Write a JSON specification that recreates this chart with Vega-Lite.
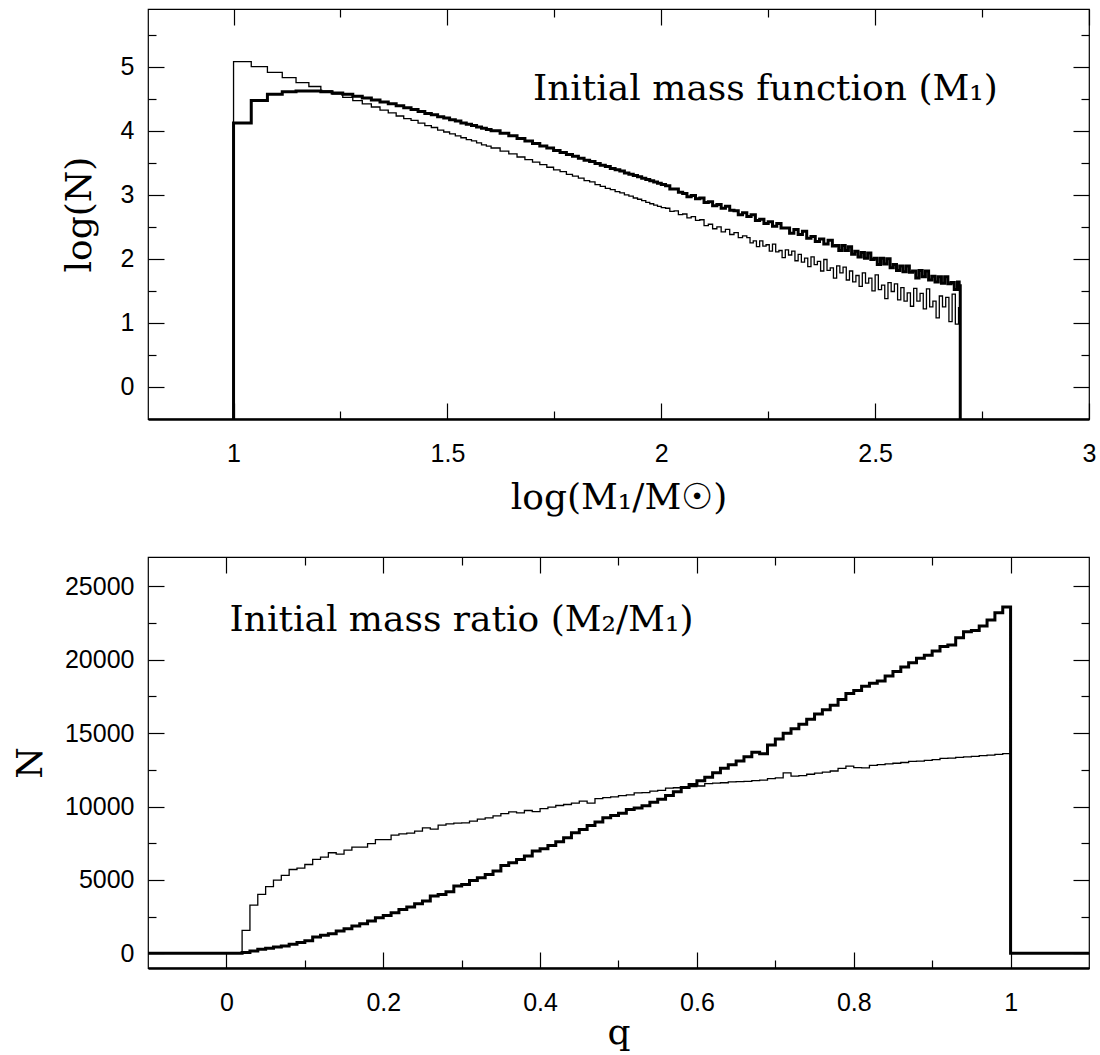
{
  "$schema": "https://vega.github.io/schema/vega-lite/v6.json",
  "background": "white",
  "padding": {"left": 11, "top": 7, "right": 5, "bottom": 0},
  "bounds": "flush",
  "spacing": 138,
  "datasets": {
    "imf": [
      {"s":"thin","x":0.9995,"y":-1},{"s":"thin","x":1.0,"y":5.08},{"s":"thin","x":1.0414,"y":5.0},{"s":"thin","x":1.0792,"y":4.91},{"s":"thin","x":1.1139,"y":4.83},{"s":"thin","x":1.1461,"y":4.75},{"s":"thin","x":1.1761,"y":4.69},{"s":"thin","x":1.2041,"y":4.62},{"s":"thin","x":1.2304,"y":4.57},{"s":"thin","x":1.2553,"y":4.52},{"s":"thin","x":1.2788,"y":4.47},{"s":"thin","x":1.301,"y":4.42},{"s":"thin","x":1.3222,"y":4.37},{"s":"thin","x":1.3424,"y":4.32},{"s":"thin","x":1.3617,"y":4.28},{"s":"thin","x":1.3802,"y":4.23},{"s":"thin","x":1.3979,"y":4.19},{"s":"thin","x":1.415,"y":4.16},{"s":"thin","x":1.4314,"y":4.12},{"s":"thin","x":1.4472,"y":4.08},{"s":"thin","x":1.4624,"y":4.05},{"s":"thin","x":1.4771,"y":4.01},{"s":"thin","x":1.4914,"y":3.98},{"s":"thin","x":1.5051,"y":3.95},{"s":"thin","x":1.5185,"y":3.92},{"s":"thin","x":1.5315,"y":3.89},{"s":"thin","x":1.5441,"y":3.86},{"s":"thin","x":1.5563,"y":3.84},{"s":"thin","x":1.5682,"y":3.81},{"s":"thin","x":1.5798,"y":3.78},{"s":"thin","x":1.5911,"y":3.76},{"s":"thin","x":1.6021,"y":3.73},{"s":"thin","x":1.6232,"y":3.68},{"s":"thin","x":1.6435,"y":3.64},{"s":"thin","x":1.6628,"y":3.59},{"s":"thin","x":1.6812,"y":3.55},{"s":"thin","x":1.699,"y":3.51},{"s":"thin","x":1.716,"y":3.47},{"s":"thin","x":1.7324,"y":3.43},{"s":"thin","x":1.7482,"y":3.39},{"s":"thin","x":1.7634,"y":3.36},{"s":"thin","x":1.7782,"y":3.32},{"s":"thin","x":1.7924,"y":3.29},{"s":"thin","x":1.8062,"y":3.26},{"s":"thin","x":1.8195,"y":3.22},{"s":"thin","x":1.8325,"y":3.2},{"s":"thin","x":1.8451,"y":3.16},{"s":"thin","x":1.8573,"y":3.13},{"s":"thin","x":1.8692,"y":3.1},{"s":"thin","x":1.8808,"y":3.08},{"s":"thin","x":1.8921,"y":3.05},{"s":"thin","x":1.9031,"y":3.03},{"s":"thin","x":1.9138,"y":3.0},{"s":"thin","x":1.9243,"y":2.98},{"s":"thin","x":1.9345,"y":2.95},{"s":"thin","x":1.9445,"y":2.93},{"s":"thin","x":1.9542,"y":2.91},{"s":"thin","x":1.9638,"y":2.88},{"s":"thin","x":1.9731,"y":2.86},{"s":"thin","x":1.9823,"y":2.84},{"s":"thin","x":1.9912,"y":2.82},{"s":"thin","x":2.0,"y":2.8},
      {"s":"thin","x":2.01,"y":2.79},{"s":"thin","x":2.02,"y":2.74},{"s":"thin","x":2.03,"y":2.75},{"s":"thin","x":2.04,"y":2.69},{"s":"thin","x":2.05,"y":2.7},{"s":"thin","x":2.06,"y":2.64},{"s":"thin","x":2.07,"y":2.66},{"s":"thin","x":2.08,"y":2.6},{"s":"thin","x":2.09,"y":2.61},{"s":"thin","x":2.1,"y":2.52},{"s":"thin","x":2.11,"y":2.54},{"s":"thin","x":2.12,"y":2.47},{"s":"thin","x":2.13,"y":2.5},{"s":"thin","x":2.14,"y":2.42},{"s":"thin","x":2.15,"y":2.46},{"s":"thin","x":2.16,"y":2.38},{"s":"thin","x":2.17,"y":2.41},{"s":"thin","x":2.18,"y":2.33},{"s":"thin","x":2.19,"y":2.36},
      {"s":"thin","x":2.2,"y":2.33},{"s":"thin","x":2.2075,"y":2.25},{"s":"thin","x":2.215,"y":2.28},{"s":"thin","x":2.2225,"y":2.19},{"s":"thin","x":2.23,"y":2.28},{"s":"thin","x":2.2375,"y":2.2},{"s":"thin","x":2.245,"y":2.22},{"s":"thin","x":2.2525,"y":2.12},{"s":"thin","x":2.26,"y":2.23},{"s":"thin","x":2.2675,"y":2.11},{"s":"thin","x":2.275,"y":2.13},{"s":"thin","x":2.2825,"y":2.02},{"s":"thin","x":2.29,"y":2.14},{"s":"thin","x":2.2975,"y":2.06},{"s":"thin","x":2.305,"y":2.12},{"s":"thin","x":2.3125,"y":1.97},{"s":"thin","x":2.32,"y":2.07},{"s":"thin","x":2.3275,"y":1.95},{"s":"thin","x":2.335,"y":2.01},{"s":"thin","x":2.3425,"y":1.88},{"s":"thin","x":2.35,"y":2.03},{"s":"thin","x":2.3575,"y":1.91},{"s":"thin","x":2.365,"y":1.96},{"s":"thin","x":2.3725,"y":1.81},{"s":"thin","x":2.38,"y":1.99},{"s":"thin","x":2.3875,"y":1.82},{"s":"thin","x":2.395,"y":1.86},{"s":"thin","x":2.4025,"y":1.7},{"s":"thin","x":2.41,"y":1.89},{"s":"thin","x":2.4175,"y":1.78},{"s":"thin","x":2.425,"y":1.87},{"s":"thin","x":2.4325,"y":1.67},{"s":"thin","x":2.44,"y":1.81},{"s":"thin","x":2.4475,"y":1.64},{"s":"thin","x":2.455,"y":1.74},{"s":"thin","x":2.4625,"y":1.57},{"s":"thin","x":2.47,"y":1.78},{"s":"thin","x":2.4775,"y":1.62},{"s":"thin","x":2.485,"y":1.7},{"s":"thin","x":2.4925,"y":1.5},{"s":"thin","x":2.5,"y":1.75},{"s":"thin","x":2.5075,"y":1.52},{"s":"thin","x":2.515,"y":1.59},{"s":"thin","x":2.5225,"y":1.38},{"s":"thin","x":2.53,"y":1.63},{"s":"thin","x":2.5375,"y":1.49},{"s":"thin","x":2.545,"y":1.61},{"s":"thin","x":2.5525,"y":1.36},{"s":"thin","x":2.56,"y":1.55},{"s":"thin","x":2.5675,"y":1.34},{"s":"thin","x":2.575,"y":1.47},{"s":"thin","x":2.5825,"y":1.26},{"s":"thin","x":2.59,"y":1.54},{"s":"thin","x":2.5975,"y":1.34},{"s":"thin","x":2.605,"y":1.46},{"s":"thin","x":2.6125,"y":1.22},{"s":"thin","x":2.62,"y":1.53},{"s":"thin","x":2.6275,"y":1.25},{"s":"thin","x":2.635,"y":1.34},{"s":"thin","x":2.6425,"y":1.08},{"s":"thin","x":2.65,"y":1.42},{"s":"thin","x":2.6575,"y":1.25},{"s":"thin","x":2.665,"y":1.4},{"s":"thin","x":2.6725,"y":1.02},{"s":"thin","x":2.68,"y":1.45},{"s":"thin","x":2.6875,"y":0.98},{"s":"thin","x":2.695,"y":1.24},{"s":"thin","x":2.699,"y":-1},
      {"s":"thick","x":0.9995,"y":-1},{"s":"thick","x":1.0,"y":4.12},{"s":"thick","x":1.0414,"y":4.47},{"s":"thick","x":1.0792,"y":4.57},{"s":"thick","x":1.1139,"y":4.61},{"s":"thick","x":1.1461,"y":4.62},{"s":"thick","x":1.1761,"y":4.62},{"s":"thick","x":1.2041,"y":4.61},{"s":"thick","x":1.2304,"y":4.59},{"s":"thick","x":1.2553,"y":4.57},{"s":"thick","x":1.2788,"y":4.54},{"s":"thick","x":1.301,"y":4.51},{"s":"thick","x":1.3222,"y":4.48},{"s":"thick","x":1.3424,"y":4.45},{"s":"thick","x":1.3617,"y":4.42},{"s":"thick","x":1.3802,"y":4.39},{"s":"thick","x":1.3979,"y":4.36},{"s":"thick","x":1.415,"y":4.33},{"s":"thick","x":1.4314,"y":4.3},{"s":"thick","x":1.4472,"y":4.27},{"s":"thick","x":1.4624,"y":4.25},{"s":"thick","x":1.4771,"y":4.22},{"s":"thick","x":1.4914,"y":4.2},{"s":"thick","x":1.5051,"y":4.17},{"s":"thick","x":1.5185,"y":4.15},{"s":"thick","x":1.5315,"y":4.12},{"s":"thick","x":1.5441,"y":4.1},{"s":"thick","x":1.5563,"y":4.08},{"s":"thick","x":1.5682,"y":4.06},{"s":"thick","x":1.5798,"y":4.04},{"s":"thick","x":1.5911,"y":4.02},{"s":"thick","x":1.6021,"y":4.0},{"s":"thick","x":1.6232,"y":3.96},{"s":"thick","x":1.6435,"y":3.92},{"s":"thick","x":1.6628,"y":3.88},{"s":"thick","x":1.6812,"y":3.84},{"s":"thick","x":1.699,"y":3.8},{"s":"thick","x":1.716,"y":3.76},{"s":"thick","x":1.7324,"y":3.73},{"s":"thick","x":1.7482,"y":3.69},{"s":"thick","x":1.7634,"y":3.66},{"s":"thick","x":1.7782,"y":3.63},{"s":"thick","x":1.7924,"y":3.6},{"s":"thick","x":1.8062,"y":3.57},{"s":"thick","x":1.8195,"y":3.54},{"s":"thick","x":1.8325,"y":3.52},{"s":"thick","x":1.8451,"y":3.49},{"s":"thick","x":1.8573,"y":3.46},{"s":"thick","x":1.8692,"y":3.44},{"s":"thick","x":1.8808,"y":3.41},{"s":"thick","x":1.8921,"y":3.39},{"s":"thick","x":1.9031,"y":3.37},{"s":"thick","x":1.9138,"y":3.34},{"s":"thick","x":1.9243,"y":3.32},{"s":"thick","x":1.9345,"y":3.3},{"s":"thick","x":1.9445,"y":3.28},{"s":"thick","x":1.9542,"y":3.26},{"s":"thick","x":1.9638,"y":3.24},{"s":"thick","x":1.9731,"y":3.22},{"s":"thick","x":1.9823,"y":3.2},{"s":"thick","x":1.9912,"y":3.18},{"s":"thick","x":2.0,"y":3.16},
      {"s":"thick","x":2.01,"y":3.14},{"s":"thick","x":2.02,"y":3.09},{"s":"thick","x":2.03,"y":3.09},{"s":"thick","x":2.04,"y":3.04},{"s":"thick","x":2.05,"y":3.02},{"s":"thick","x":2.06,"y":2.97},{"s":"thick","x":2.07,"y":2.99},{"s":"thick","x":2.08,"y":2.94},{"s":"thick","x":2.09,"y":2.95},{"s":"thick","x":2.1,"y":2.88},{"s":"thick","x":2.11,"y":2.89},{"s":"thick","x":2.12,"y":2.83},{"s":"thick","x":2.13,"y":2.85},{"s":"thick","x":2.14,"y":2.79},{"s":"thick","x":2.15,"y":2.82},{"s":"thick","x":2.16,"y":2.76},{"s":"thick","x":2.17,"y":2.75},{"s":"thick","x":2.18,"y":2.69},{"s":"thick","x":2.19,"y":2.72},{"s":"thick","x":2.2,"y":2.66},{"s":"thick","x":2.21,"y":2.69},{"s":"thick","x":2.22,"y":2.6},{"s":"thick","x":2.23,"y":2.62},{"s":"thick","x":2.24,"y":2.55},{"s":"thick","x":2.25,"y":2.58},{"s":"thick","x":2.26,"y":2.51},{"s":"thick","x":2.27,"y":2.55},{"s":"thick","x":2.28,"y":2.48},{"s":"thick","x":2.29,"y":2.48},{"s":"thick","x":2.3,"y":2.4},{"s":"thick","x":2.31,"y":2.46},{"s":"thick","x":2.32,"y":2.38},{"s":"thick","x":2.33,"y":2.43},{"s":"thick","x":2.34,"y":2.32},{"s":"thick","x":2.35,"y":2.35},{"s":"thick","x":2.36,"y":2.27},{"s":"thick","x":2.37,"y":2.31},{"s":"thick","x":2.38,"y":2.23},{"s":"thick","x":2.39,"y":2.29},{"s":"thick","x":2.4,"y":2.2},
      {"s":"thick","x":2.4075,"y":2.21},{"s":"thick","x":2.415,"y":2.13},{"s":"thick","x":2.4225,"y":2.21},{"s":"thick","x":2.43,"y":2.13},{"s":"thick","x":2.4375,"y":2.19},{"s":"thick","x":2.445,"y":2.07},{"s":"thick","x":2.4525,"y":2.12},{"s":"thick","x":2.46,"y":2.03},{"s":"thick","x":2.4675,"y":2.1},{"s":"thick","x":2.475,"y":2.01},{"s":"thick","x":2.4825,"y":2.09},{"s":"thick","x":2.49,"y":1.99},{"s":"thick","x":2.4975,"y":2.01},{"s":"thick","x":2.505,"y":1.91},{"s":"thick","x":2.5125,"y":2.01},{"s":"thick","x":2.52,"y":1.92},{"s":"thick","x":2.5275,"y":2.0},{"s":"thick","x":2.535,"y":1.86},{"s":"thick","x":2.5425,"y":1.91},{"s":"thick","x":2.55,"y":1.82},{"s":"thick","x":2.5575,"y":1.89},{"s":"thick","x":2.565,"y":1.8},{"s":"thick","x":2.5725,"y":1.89},{"s":"thick","x":2.58,"y":1.79},{"s":"thick","x":2.5875,"y":1.81},{"s":"thick","x":2.595,"y":1.7},{"s":"thick","x":2.6025,"y":1.82},{"s":"thick","x":2.61,"y":1.72},{"s":"thick","x":2.6175,"y":1.81},{"s":"thick","x":2.625,"y":1.67},{"s":"thick","x":2.6325,"y":1.73},{"s":"thick","x":2.64,"y":1.64},{"s":"thick","x":2.6475,"y":1.72},{"s":"thick","x":2.655,"y":1.62},{"s":"thick","x":2.6625,"y":1.72},{"s":"thick","x":2.67,"y":1.61},{"s":"thick","x":2.6775,"y":1.63},{"s":"thick","x":2.685,"y":1.52},{"s":"thick","x":2.6925,"y":1.64},{"s":"thick","x":2.6965,"y":1.58},{"s":"thick","x":2.699,"y":-1}
    ],
    "qdist": [
      {"s":"thin","x":-0.1,"y":0},{"s":"thin","x":0.0,"y":0},{"s":"thin","x":0.01,"y":0},{"s":"thin","x":0.02,"y":1570},{"s":"thin","x":0.03,"y":3290},{"s":"thin","x":0.04,"y":4010},{"s":"thin","x":0.05,"y":4540},{"s":"thin","x":0.06,"y":4990},{"s":"thin","x":0.07,"y":5310},{"s":"thin","x":0.08,"y":5710},{"s":"thin","x":0.09,"y":5810},{"s":"thin","x":0.1,"y":6050},{"s":"thin","x":0.11,"y":6400},{"s":"thin","x":0.12,"y":6560},{"s":"thin","x":0.13,"y":6850},{"s":"thin","x":0.14,"y":6760},{"s":"thin","x":0.15,"y":7030},{"s":"thin","x":0.16,"y":7240},{"s":"thin","x":0.17,"y":7240},{"s":"thin","x":0.18,"y":7480},{"s":"thin","x":0.19,"y":7740},{"s":"thin","x":0.2,"y":7740},{"s":"thin","x":0.21,"y":8050},{"s":"thin","x":0.22,"y":8140},{"s":"thin","x":0.23,"y":8190},{"s":"thin","x":0.24,"y":8330},{"s":"thin","x":0.25,"y":8550},{"s":"thin","x":0.26,"y":8460},{"s":"thin","x":0.27,"y":8740},{"s":"thin","x":0.28,"y":8820},{"s":"thin","x":0.29,"y":8870},{"s":"thin","x":0.3,"y":8890},{"s":"thin","x":0.31,"y":9010},{"s":"thin","x":0.32,"y":9140},{"s":"thin","x":0.33,"y":9230},{"s":"thin","x":0.34,"y":9370},{"s":"thin","x":0.35,"y":9520},{"s":"thin","x":0.36,"y":9640},{"s":"thin","x":0.37,"y":9570},{"s":"thin","x":0.38,"y":9730},{"s":"thin","x":0.39,"y":9660},{"s":"thin","x":0.4,"y":9860},{"s":"thin","x":0.41,"y":9960},{"s":"thin","x":0.42,"y":10070},{"s":"thin","x":0.43,"y":10140},{"s":"thin","x":0.44,"y":10230},{"s":"thin","x":0.45,"y":10370},{"s":"thin","x":0.46,"y":10230},{"s":"thin","x":0.47,"y":10540},{"s":"thin","x":0.48,"y":10610},{"s":"thin","x":0.49,"y":10660},{"s":"thin","x":0.5,"y":10750},{"s":"thin","x":0.51,"y":10800},{"s":"thin","x":0.52,"y":10930},{"s":"thin","x":0.53,"y":10950},{"s":"thin","x":0.54,"y":11050},{"s":"thin","x":0.55,"y":11100},{"s":"thin","x":0.56,"y":11250},{"s":"thin","x":0.57,"y":11280},{"s":"thin","x":0.58,"y":11300},{"s":"thin","x":0.59,"y":11350},{"s":"thin","x":0.6,"y":11400},{"s":"thin","x":0.61,"y":11560},{"s":"thin","x":0.62,"y":11600},{"s":"thin","x":0.63,"y":11620},{"s":"thin","x":0.64,"y":11680},{"s":"thin","x":0.65,"y":11700},{"s":"thin","x":0.66,"y":11720},{"s":"thin","x":0.67,"y":11760},{"s":"thin","x":0.68,"y":11800},{"s":"thin","x":0.69,"y":11900},{"s":"thin","x":0.7,"y":11950},{"s":"thin","x":0.71,"y":12290},{"s":"thin","x":0.72,"y":12070},{"s":"thin","x":0.73,"y":12100},{"s":"thin","x":0.74,"y":12200},{"s":"thin","x":0.75,"y":12280},{"s":"thin","x":0.76,"y":12350},{"s":"thin","x":0.77,"y":12420},{"s":"thin","x":0.78,"y":12600},{"s":"thin","x":0.79,"y":12750},{"s":"thin","x":0.8,"y":12650},{"s":"thin","x":0.81,"y":12630},{"s":"thin","x":0.82,"y":12800},{"s":"thin","x":0.83,"y":12860},{"s":"thin","x":0.84,"y":12900},{"s":"thin","x":0.85,"y":12950},{"s":"thin","x":0.86,"y":13000},{"s":"thin","x":0.87,"y":13080},{"s":"thin","x":0.88,"y":13100},{"s":"thin","x":0.89,"y":13150},{"s":"thin","x":0.9,"y":13200},{"s":"thin","x":0.91,"y":13280},{"s":"thin","x":0.92,"y":13300},{"s":"thin","x":0.93,"y":13350},{"s":"thin","x":0.94,"y":13380},{"s":"thin","x":0.95,"y":13420},{"s":"thin","x":0.96,"y":13470},{"s":"thin","x":0.97,"y":13500},{"s":"thin","x":0.98,"y":13560},{"s":"thin","x":0.99,"y":13610},{"s":"thin","x":1.0,"y":0},{"s":"thin","x":1.1,"y":0},
      {"s":"thick","x":-0.1,"y":0},{"s":"thick","x":0.0,"y":0},{"s":"thick","x":0.01,"y":0},{"s":"thick","x":0.02,"y":50},{"s":"thick","x":0.03,"y":160},{"s":"thick","x":0.04,"y":270},{"s":"thick","x":0.05,"y":340},{"s":"thick","x":0.06,"y":435},{"s":"thick","x":0.07,"y":500},{"s":"thick","x":0.08,"y":610},{"s":"thick","x":0.09,"y":730},{"s":"thick","x":0.1,"y":850},{"s":"thick","x":0.11,"y":1115},{"s":"thick","x":0.12,"y":1224},{"s":"thick","x":0.13,"y":1340},{"s":"thick","x":0.14,"y":1524},{"s":"thick","x":0.15,"y":1680},{"s":"thick","x":0.16,"y":1864},{"s":"thick","x":0.17,"y":2020},{"s":"thick","x":0.18,"y":2204},{"s":"thick","x":0.19,"y":2429},{"s":"thick","x":0.2,"y":2585},{"s":"thick","x":0.21,"y":2769},{"s":"thick","x":0.22,"y":2993},{"s":"thick","x":0.23,"y":3156},{"s":"thick","x":0.24,"y":3381},{"s":"thick","x":0.25,"y":3565},{"s":"thick","x":0.26,"y":3905},{"s":"thick","x":0.27,"y":4014},{"s":"thick","x":0.28,"y":4197},{"s":"thick","x":0.29,"y":4585},{"s":"thick","x":0.3,"y":4694},{"s":"thick","x":0.31,"y":4966},{"s":"thick","x":0.32,"y":5150},{"s":"thick","x":0.33,"y":5374},{"s":"thick","x":0.34,"y":5605},{"s":"thick","x":0.35,"y":5986},{"s":"thick","x":0.36,"y":6170},{"s":"thick","x":0.37,"y":6395},{"s":"thick","x":0.38,"y":6626},{"s":"thick","x":0.39,"y":6966},{"s":"thick","x":0.4,"y":7122},{"s":"thick","x":0.41,"y":7347},{"s":"thick","x":0.42,"y":7599},{"s":"thick","x":0.43,"y":7871},{"s":"thick","x":0.44,"y":8211},{"s":"thick","x":0.45,"y":8435},{"s":"thick","x":0.46,"y":8707},{"s":"thick","x":0.47,"y":8939},{"s":"thick","x":0.48,"y":9231},{"s":"thick","x":0.49,"y":9388},{"s":"thick","x":0.5,"y":9550},{"s":"thick","x":0.51,"y":9800},{"s":"thick","x":0.52,"y":9900},{"s":"thick","x":0.53,"y":10050},{"s":"thick","x":0.54,"y":10300},{"s":"thick","x":0.55,"y":10500},{"s":"thick","x":0.56,"y":10750},{"s":"thick","x":0.57,"y":11000},{"s":"thick","x":0.58,"y":11300},{"s":"thick","x":0.59,"y":11500},{"s":"thick","x":0.6,"y":11750},{"s":"thick","x":0.61,"y":12000},{"s":"thick","x":0.62,"y":12300},{"s":"thick","x":0.63,"y":12600},{"s":"thick","x":0.64,"y":12850},{"s":"thick","x":0.65,"y":13100},{"s":"thick","x":0.66,"y":13400},{"s":"thick","x":0.67,"y":13700},{"s":"thick","x":0.68,"y":13600},{"s":"thick","x":0.69,"y":14200},{"s":"thick","x":0.7,"y":14600},{"s":"thick","x":0.71,"y":15000},{"s":"thick","x":0.72,"y":15300},{"s":"thick","x":0.73,"y":15600},{"s":"thick","x":0.74,"y":15950},{"s":"thick","x":0.75,"y":16300},{"s":"thick","x":0.76,"y":16600},{"s":"thick","x":0.77,"y":16900},{"s":"thick","x":0.78,"y":17300},{"s":"thick","x":0.79,"y":17700},{"s":"thick","x":0.8,"y":17900},{"s":"thick","x":0.81,"y":18200},{"s":"thick","x":0.82,"y":18400},{"s":"thick","x":0.83,"y":18550},{"s":"thick","x":0.84,"y":18900},{"s":"thick","x":0.85,"y":19200},{"s":"thick","x":0.86,"y":19500},{"s":"thick","x":0.87,"y":19800},{"s":"thick","x":0.88,"y":20100},{"s":"thick","x":0.89,"y":20300},{"s":"thick","x":0.9,"y":20600},{"s":"thick","x":0.91,"y":20900},{"s":"thick","x":0.92,"y":21000},{"s":"thick","x":0.93,"y":21500},{"s":"thick","x":0.94,"y":21900},{"s":"thick","x":0.95,"y":22000},{"s":"thick","x":0.96,"y":22300},{"s":"thick","x":0.97,"y":22700},{"s":"thick","x":0.98,"y":23200},{"s":"thick","x":0.99,"y":23600},{"s":"thick","x":1.0,"y":0},{"s":"thick","x":1.1,"y":0}
    ]
  },
  "vconcat": [
    {
      "width": 941,
      "height": 410,
      "resolve": {"axis": {"x": "independent", "y": "independent"}},
      "layer": [
        {
          "data": {"name": "imf"},
          "transform": [{"filter": "datum.s === 'thin'"}],
          "mark": {"type": "line", "interpolate": "step-after", "color": "black", "strokeWidth": 1.3, "clip": true},
          "encoding": {
            "x": {"field": "x", "type": "quantitative", "scale": {"domain": [0.8, 3.0], "nice": false, "zero": false},
              "axis": {"values": [1, 1.25, 1.5, 1.75, 2, 2.25, 2.5, 2.75, 3], "format": "~g",
                "labelExpr": "(datum.value * 2) % 1 === 0 ? datum.label : ''",
                "tickSize": {"condition": {"test": "(datum.value * 2) % 1 === 0", "value": -16}, "value": -8},
                "labelPadding": 38, "domain": true, "domainWidth": 2.5, "domainColor": "black",
                "title": "log(M₁/M☉)", "titleX": 470.5, "titleY": 89, "titleBaseline": "alphabetic", "titleAlign": "center"}},
            "y": {"field": "y", "type": "quantitative", "scale": {"domain": [-0.5, 5.9], "nice": false, "zero": false},
              "axis": {"values": [0, 0.5, 1, 1.5, 2, 2.5, 3, 3.5, 4, 4.5, 5, 5.5], "format": "~g",
                "labelExpr": "datum.value % 1 === 0 ? datum.label : ''",
                "tickSize": {"condition": {"test": "datum.value % 1 === 0", "value": -16}, "value": -8},
                "labelPadding": 30, "domain": false,
                "title": "log(N)", "titleX": -58, "titleY": 205, "titleAngle": 270, "titleBaseline": "alphabetic", "titleAlign": "center"}}
          }
        },
        {
          "data": {"name": "imf"},
          "transform": [{"filter": "datum.s === 'thick'"}],
          "mark": {"type": "line", "interpolate": "step-after", "color": "black", "strokeWidth": 3, "clip": true},
          "encoding": {
            "x": {"field": "x", "type": "quantitative", "scale": {"domain": [0.8, 3.0], "nice": false, "zero": false},
              "axis": {"orient": "top", "values": [1, 1.25, 1.5, 1.75, 2, 2.25, 2.5, 2.75, 3],
                "tickSize": {"condition": {"test": "(datum.value * 2) % 1 === 0", "value": -16}, "value": -8},
                "labels": false, "domain": false, "title": null}},
            "y": {"field": "y", "type": "quantitative", "scale": {"domain": [-0.5, 5.9], "nice": false, "zero": false},
              "axis": {"orient": "right", "values": [0, 0.5, 1, 1.5, 2, 2.5, 3, 3.5, 4, 4.5, 5, 5.5],
                "tickSize": {"condition": {"test": "datum.value % 1 === 0", "value": -16}, "value": -8},
                "labels": false, "domain": false, "title": null}}
          }
        },
        {
          "data": {"values": [{"label": "Initial mass function (M₁)"}]},
          "mark": {"type": "text", "font": "DejaVu Serif", "fontSize": 36, "align": "left", "baseline": "alphabetic", "color": "black"},
          "encoding": {
            "x": {"datum": 1.7, "type": "quantitative", "scale": {"domain": [0.8, 3.0], "nice": false, "zero": false}, "axis": null},
            "y": {"datum": 4.485, "type": "quantitative", "scale": {"domain": [-0.5, 5.9], "nice": false, "zero": false}, "axis": null},
            "text": {"field": "label"}
          }
        }
      ]
    },
    {
      "width": 941,
      "height": 411,
      "resolve": {"axis": {"x": "independent", "y": "independent"}},
      "layer": [
        {
          "data": {"name": "qdist"},
          "transform": [{"filter": "datum.s === 'thin'"}],
          "mark": {"type": "line", "interpolate": "step-after", "color": "black", "strokeWidth": 1.3, "clip": true},
          "encoding": {
            "x": {"field": "x", "type": "quantitative", "scale": {"domain": [-0.1, 1.1], "nice": false, "zero": false},
              "axis": {"values": [0, 0.1, 0.2, 0.3, 0.4, 0.5, 0.6, 0.7, 0.8, 0.9, 1], "format": "~g",
                "labelExpr": "round(datum.value * 10) % 2 === 0 ? datum.label : ''",
                "tickSize": {"condition": {"test": "round(datum.value * 10) % 2 === 0", "value": -16}, "value": -8},
                "labelPadding": 38, "domain": true, "domainWidth": 2.5, "domainColor": "black",
                "title": "q", "titleX": 470.5, "titleY": 75, "titleBaseline": "alphabetic", "titleAlign": "center"}},
            "y": {"field": "y", "type": "quantitative", "scale": {"domain": [-1000, 27000], "nice": false, "zero": false},
              "axis": {"values": [0, 2500, 5000, 7500, 10000, 12500, 15000, 17500, 20000, 22500, 25000], "format": "d",
                "labelExpr": "datum.value % 5000 === 0 ? datum.label : ''",
                "tickSize": {"condition": {"test": "datum.value % 5000 === 0", "value": -16}, "value": -8},
                "labelPadding": 30, "domain": false,
                "title": "N", "titleX": -107, "titleY": 205.5, "titleAngle": 270, "titleBaseline": "alphabetic", "titleAlign": "center"}}
          }
        },
        {
          "data": {"name": "qdist"},
          "transform": [{"filter": "datum.s === 'thick'"}],
          "mark": {"type": "line", "interpolate": "step-after", "color": "black", "strokeWidth": 3, "clip": true},
          "encoding": {
            "x": {"field": "x", "type": "quantitative", "scale": {"domain": [-0.1, 1.1], "nice": false, "zero": false},
              "axis": {"orient": "top", "values": [0, 0.1, 0.2, 0.3, 0.4, 0.5, 0.6, 0.7, 0.8, 0.9, 1],
                "tickSize": {"condition": {"test": "round(datum.value * 10) % 2 === 0", "value": -16}, "value": -8},
                "labels": false, "domain": false, "title": null}},
            "y": {"field": "y", "type": "quantitative", "scale": {"domain": [-1000, 27000], "nice": false, "zero": false},
              "axis": {"orient": "right", "values": [0, 2500, 5000, 7500, 10000, 12500, 15000, 17500, 20000, 22500, 25000],
                "tickSize": {"condition": {"test": "datum.value % 5000 === 0", "value": -16}, "value": -8},
                "labels": false, "domain": false, "title": null}}
          }
        },
        {
          "data": {"values": [{"label": "Initial mass ratio (M₂/M₁)"}]},
          "mark": {"type": "text", "font": "DejaVu Serif", "fontSize": 36, "align": "left", "baseline": "alphabetic", "color": "black"},
          "encoding": {
            "x": {"datum": 0.004, "type": "quantitative", "scale": {"domain": [-0.1, 1.1], "nice": false, "zero": false}, "axis": null},
            "y": {"datum": 21930, "type": "quantitative", "scale": {"domain": [-1000, 27000], "nice": false, "zero": false}, "axis": null},
            "text": {"field": "label"}
          }
        }
      ]
    }
  ],
  "config": {
    "view": {"stroke": "black", "strokeWidth": 1.2},
    "axis": {
      "labelFont": "Liberation Sans", "labelFontSize": 25, "labelColor": "black",
      "tickColor": "black", "tickWidth": 1.2,
      "titleFont": "DejaVu Serif", "titleFontSize": 36, "titleFontWeight": "normal", "titleColor": "black",
      "grid": false, "labelOverlap": false, "labelFlush": false
    }
  }
}
